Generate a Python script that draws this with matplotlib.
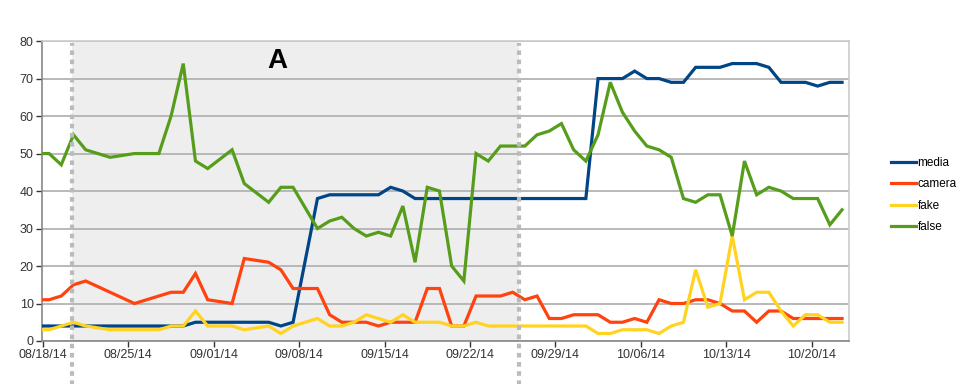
import matplotlib
matplotlib.use("Agg")
import matplotlib.pyplot as plt
from matplotlib.lines import Line2D

plt.rcParams['font.family'] = ['Liberation Sans', 'DejaVu Sans']

# days since 08/18/14
days = [0, 0.5, 1.5, 2.5, 3.5, 5.5, 7.5, 9.5, 10.5, 11.5, 12.5, 13.5, 15.5, 16.5,
        18.5, 19.5, 20.5] + [k + 0.5 for k in range(22, 66)]

media = [4, 4, 4, 4, 4, 4, 4, 4, 4, 4, 5, 5, 5, 5, 5, 4, 5,
         38, 39, 39, 39, 39, 39, 41, 40, 38, 38, 38, 38, 38, 38, 38, 38, 38, 38, 38,
         38, 38, 38, 38, 70, 70, 70, 72, 70, 70, 69, 69, 73, 73, 73, 74, 74, 74, 73,
         69, 69, 69, 68, 69, 69]
camera = [11, 11, 12, 15, 16, 13, 10, 12, 13, 13, 18, 11, 10, 22, 21, 19, 14,
          14, 7, 5, 5, 5, 4, 5, 5, 5, 14, 14, 4, 4, 12, 12, 12, 13, 11, 12,
          6, 6, 7, 7, 7, 5, 5, 6, 5, 11, 10, 10, 11, 11, 10, 8, 8, 5, 8,
          8, 6, 6, 6, 6, 6]
fake = [3, 3, 4, 5, 4, 3, 3, 3, 4, 4, 8, 4, 4, 3, 4, 2, 4,
        6, 4, 4, 5, 7, 6, 5, 7, 5, 5, 5, 4, 4, 5, 4, 4, 4, 4, 4,
        4, 4, 4, 4, 2, 2, 3, 3, 3, 2, 4, 5, 19, 9, 10, 28, 11, 13, 13,
        8, 4, 7, 7, 5, 5]
false = [50, 50, 47, 55, 51, 49, 50, 50, 60, 74, 48, 46, 51, 42, 37, 41, 41,
         30, 32, 33, 30, 28, 29, 28, 36, 21, 41, 40, 20, 16, 50, 48, 52, 52, 52, 55,
         56, 58, 51, 48, 55, 69, 61, 56, 52, 51, 49, 38, 37, 39, 39, 28, 48, 39, 41,
         40, 38, 38, 38, 31, 35]

series = [("media", media, "#004586"), ("camera", camera, "#ff420e"),
          ("fake", fake, "#ffd320"), ("false", false, "#579d1c")]

tick_days = [0, 7, 14, 21, 28, 35, 42, 49, 56, 63]
tick_labels = ["08/18/14", "08/25/14", "09/01/14", "09/08/14", "09/15/14",
               "09/22/14", "09/29/14", "10/06/14", "10/13/14", "10/20/14"]
shade_span = [2.4, 39.0]
panel_label = "A"

fig = plt.figure(figsize=(9.6, 3.84), dpi=100)
ax = fig.add_axes([0.04375, 0.112, 0.841, 0.781])
ax.set_xlim(-0.08, 66.1)
ax.set_ylim(0, 80)

ax.axvspan(shade_span[0], shade_span[1], color="#eeeeee", zorder=0, lw=0)
ax.set_yticks(range(0, 81, 10))
ax.yaxis.grid(True, color="#b3b3b3", lw=1.3, zorder=1)
ax.set_axisbelow(True)

for name, vals, col in series:
    ax.plot(days, vals, color=col, lw=2.3, label=name, zorder=3,
            solid_joinstyle="miter")

for xv in shade_span:
    ax.axvline(xv, ymin=-0.15, ymax=0.995, color="#bbbbbb", lw=3,
               linestyle=(0, (1.1, 1.1)), clip_on=False, zorder=4)

ax.set_xticks(tick_days)
ax.set_xticklabels(tick_labels)
ax.tick_params(axis="both", labelsize=9, colors="#333333", length=4,
               width=1, direction="out")
ax.tick_params(axis="x", pad=2)
ax.tick_params(axis="y", pad=2)
for s in ["top", "right"]:
    ax.spines[s].set_color("#cccccc")
    ax.spines[s].set_linewidth(1.2)
for s in ["left", "bottom"]:
    ax.spines[s].set_color("#888888")
    ax.spines[s].set_linewidth(1.2)

fig.text(0.289, 0.875, panel_label, fontsize=20, fontweight="bold",
         ha="center", va="top")

handles = [Line2D([], [], color=c, lw=2.3) for _, _, c in series]
fig.legend(handles, [n for n, _, _ in series], loc="center left",
           bbox_to_anchor=(0.928, 0.492), frameon=False, fontsize=8.5,
           handlelength=2.1, handletextpad=0.15, labelspacing=0.8,
           borderpad=0, borderaxespad=0)

fig.savefig("out.png", dpi=100)
